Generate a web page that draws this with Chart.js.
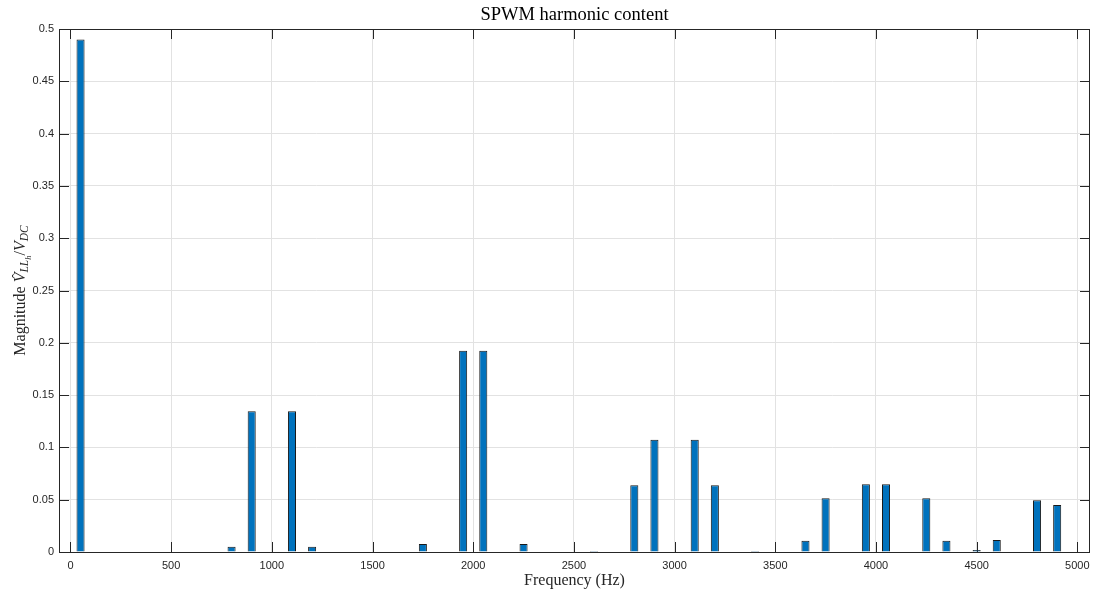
<!DOCTYPE html>
<html>
<head>
<meta charset="utf-8">
<script src="https://cdn.jsdelivr.net/npm/chart.js@4/dist/chart.umd.min.js"></script>
<style>
  html, body { margin: 0; padding: 0; background: #ffffff; }
  #wrap { position: relative; width: 1094px; height: 593px; }
  canvas { display: block; }
</style>
</head>
<body>
<div id="wrap"><canvas id="spectrum" width="1094" height="593"></canvas></div>
<script>
// Harmonic frequencies (Hz) and their normalised line-to-line magnitudes
const frequencies = [50, 800, 900, 1100, 1200, 1750, 1950, 2050, 2250, 2600,
                     2800, 2900, 3100, 3200, 3400, 3650, 3750, 3950, 4050, 4250,
                     4350, 4500, 4600, 4800, 4900];
const magnitudes  = [0.490, 0.005, 0.1345, 0.1345, 0.005, 0.0077, 0.1925, 0.1925, 0.0077, 0.001,
                     0.0638, 0.1074, 0.1074, 0.0638, 0.001, 0.0108, 0.0513, 0.0647, 0.0647, 0.0513,
                     0.0108, 0.002, 0.0115, 0.0494, 0.045];

// Axis ticks
const xTicks = [0, 500, 1000, 1500, 2000, 2500, 3000, 3500, 4000, 4500, 5000];
const yTicks = [0, 0.05, 0.1, 0.15, 0.2, 0.25, 0.3, 0.35, 0.4, 0.45, 0.5];

const titleText = 'SPWM harmonic content';
const xLabelText = 'Frequency (Hz)';

const AXIS_COLOR = '#262626';
const GRID_COLOR = '#e2e2e2';
const BAR_COLOR = '#0072BD';
const SANS = '"Liberation Sans", Arial, Helvetica, sans-serif';
const SERIF = '"Liberation Serif", "Times New Roman", "DejaVu Serif", serif';

// Inward tick marks on all four sides plus the box outline
const boxAndTicks = {
  id: 'boxAndTicks',
  beforeDatasetsDraw(chart) {
    const { ctx, chartArea: a, scales: { x, y } } = chart;
    const len = 10;
    ctx.save();
    ctx.strokeStyle = AXIS_COLOR;
    ctx.lineWidth = 1;
    ctx.beginPath();
    xTicks.forEach(v => {
      const px = Math.round(x.getPixelForValue(v)) + 0.5;
      ctx.moveTo(px, a.bottom); ctx.lineTo(px, a.bottom - len);
      ctx.moveTo(px, a.top); ctx.lineTo(px, a.top + len);
    });
    yTicks.forEach(v => {
      const py = Math.round(y.getPixelForValue(v)) + 0.5;
      ctx.moveTo(a.left, py); ctx.lineTo(a.left + len, py);
      ctx.moveTo(a.right, py); ctx.lineTo(a.right - len, py);
    });
    ctx.stroke();
    ctx.restore();
  },
  afterDatasetsDraw(chart) {
    const { ctx, chartArea: a } = chart;
    ctx.save();
    ctx.strokeStyle = AXIS_COLOR;
    ctx.lineWidth = 1;
    ctx.strokeRect(Math.round(a.left) + 0.5, Math.round(a.top) + 0.5,
                   Math.round(a.right - a.left) - 1, Math.round(a.bottom - a.top));
    ctx.restore();
  }
};

// Title, x label and the y label with its sub/superscripts
const axisText = {
  id: 'axisText',
  afterDraw(chart) {
    const { ctx, chartArea: a } = chart;
    const cx = (a.left + a.right) / 2;
    ctx.save();
    ctx.textAlign = 'center';
    ctx.textBaseline = 'alphabetic';
    ctx.fillStyle = '#000000';
    ctx.font = `18.5px ${SERIF}`;
    ctx.fillText(titleText, cx, 20);

    ctx.fillStyle = AXIS_COLOR;
    ctx.font = `16px ${SERIF}`;
    ctx.fillText(xLabelText, cx, 585);

    // y label: Magnitude V̂_{LL_h}/V_{DC}
    const parts = [
      { t: 'Magnitude ', f: `16px ${SERIF}`, dy: 0 },
      { t: 'V', f: `italic 16px ${SERIF}`, dy: 0, hat: true },
      { t: 'LL', f: `italic 11.5px ${SERIF}`, dy: 3.5 },
      { t: 'h', f: `italic 8.5px ${SERIF}`, dy: 6.5 },
      { t: '/', f: `16px ${SERIF}`, dy: 0 },
      { t: 'V', f: `italic 16px ${SERIF}`, dy: 0 },
      { t: 'DC', f: `italic 11.5px ${SERIF}`, dy: 3.5 }
    ];
    let total = 0;
    parts.forEach(p => { ctx.font = p.f; p.w = ctx.measureText(p.t).width; total += p.w; });
    ctx.translate(24.5, (a.top + a.bottom) / 2);
    ctx.rotate(-Math.PI / 2);
    ctx.textAlign = 'left';
    let xPos = -total / 2;
    parts.forEach(p => {
      ctx.font = p.f;
      ctx.fillText(p.t, xPos, p.dy);
      if (p.hat) {
        ctx.textAlign = 'center';
        ctx.font = `14px ${SERIF}`;
        ctx.fillText('\u02C6', xPos + p.w / 2 + 1.5, -2.5);
        ctx.textAlign = 'left';
      }
      xPos += p.w;
    });
    ctx.restore();
  }
};

new Chart(document.getElementById('spectrum'), {
  type: 'bar',
  data: {
    datasets: [{
      data: frequencies.map((f, i) => ({ x: f, y: magnitudes[i] })),
      backgroundColor: BAR_COLOR,
      borderColor: '#1a1a1a',
      borderWidth: 1,
      borderSkipped: 'start',
      barPercentage: 0.4,
      categoryPercentage: 1.0
    }]
  },
  options: {
    responsive: false,
    animation: false,
    devicePixelRatio: 1,
    layout: { padding: { top: 29, right: 4, left: 0, bottom: 0 } },
    plugins: { legend: { display: false }, title: { display: false }, tooltip: { enabled: false } },
    scales: {
      x: {
        type: 'linear',
        offset: false,
        min: -57,
        max: 5063,
        afterFit(scale) {
          scale.height = 41;
          scale.paddingLeft = 0;
          scale.paddingRight = 0;
        },
        afterBuildTicks(scale) { scale.ticks = xTicks.map(v => ({ value: v })); },
        ticks: {
          includeBounds: false,
          autoSkip: false,
          maxRotation: 0,
          padding: 7,
          color: AXIS_COLOR,
          font: { family: SANS, size: 11 },
          callback: v => String(v)
        },
        grid: { color: GRID_COLOR, drawTicks: false, offset: false },
        border: { display: false }
      },
      y: {
        type: 'linear',
        min: 0,
        max: 0.5,
        afterFit(scale) {
          scale.width = 59;
          scale.paddingTop = 0;
          scale.paddingBottom = 0;
        },
        afterBuildTicks(scale) { scale.ticks = yTicks.map(v => ({ value: v })); },
        ticks: {
          includeBounds: false,
          autoSkip: false,
          padding: 5,
          color: AXIS_COLOR,
          font: { family: SANS, size: 11 },
          callback: v => String(Number(v.toFixed(2)))
        },
        grid: { color: GRID_COLOR, drawTicks: false, offset: false },
        border: { display: false }
      }
    }
  },
  plugins: [boxAndTicks, axisText]
});
</script>
</body>
</html>
